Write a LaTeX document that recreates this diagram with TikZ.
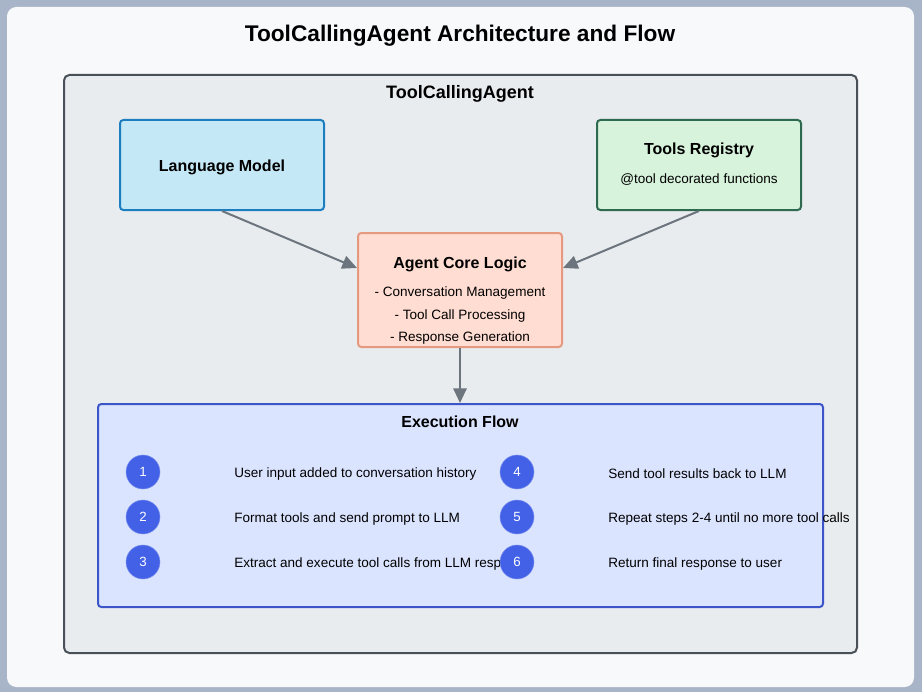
\documentclass[tikz,border=0pt]{standalone}
\usepackage{fontspec}
\setmainfont{Liberation Sans}
\usetikzlibrary{arrows.meta,positioning,backgrounds}
\definecolor{frame}{HTML}{A8B4C8}
\definecolor{card}{HTML}{F8F9FA}
\definecolor{outerbg}{HTML}{E9ECEF}
\definecolor{outerln}{HTML}{495057}
\definecolor{lmfill}{HTML}{C5E8F7}
\definecolor{lmline}{HTML}{1C7DBF}
\definecolor{trfill}{HTML}{D8F3DC}
\definecolor{trline}{HTML}{2D6A4F}
\definecolor{corefill}{HTML}{FFDDD2}
\definecolor{coreline}{HTML}{E59A80}
\definecolor{exfill}{HTML}{DBE4FF}
\definecolor{exline}{HTML}{3B55C9}
\definecolor{stepc}{HTML}{4361E6}
\definecolor{arrc}{HTML}{6C757D}
\newcommand{\fs}[1]{\fontsize{#1}{#1}\selectfont}
\tikzset{
  box/.style={rectangle,rounded corners=2.5pt,line width=1.5pt,inner sep=0pt},
  ttl/.style={font=\fs{12pt}\bfseries,inner sep=0pt,yshift=-1.5pt},
  txt/.style={font=\fs{10.15pt},inner sep=0pt,yshift=-1.5pt},
  num/.style={circle,fill=stepc,draw=stepc!70!white,thin,minimum size=25.5pt,inner sep=0pt,text=white,font=\fs{10pt}},
  ar/.style={-{Triangle[length=11pt,width=10pt]},line width=1.5pt,draw=arrc},
}
\begin{document}
\begin{tikzpicture}[x=0.75pt,y=-0.75pt]
% page
\fill[frame] (0,0) rectangle (922,692);
\fill[card,rounded corners=7pt] (7,7) rectangle (914,687);
\node[font=\fs{17pt}\bfseries,inner sep=0pt,yshift=-2pt] (title) at (460,33) {ToolCallingAgent Architecture and Flow};
% agent container
\node[box,fill=outerbg,draw=outerln,minimum width=594.75pt,minimum height=433.5pt,rounded corners=4pt] (agent) at (460.5,364) {};
\node[font=\fs{13.5pt}\bfseries,inner sep=0pt,yshift=-1.5pt] (agentttl) at (460,92) {ToolCallingAgent};
% components
\node[box,fill=lmfill,draw=lmline,minimum width=153pt,minimum height=67.5pt] (lm) at (222,165) {};
\node[ttl] (lmttl) at (222,165) {Language Model};
\node[box,fill=trfill,draw=trline,minimum width=153pt,minimum height=67.5pt] (tr) at (699,165) {};
\node[ttl] (trttl) at (699,148) {Tools Registry};
\node[txt] (trsub) at (699,178) {@tool decorated functions};
\node[box,fill=corefill,draw=coreline,minimum width=153pt,minimum height=85.5pt] (core) at (460,290) {};
\node[ttl] (corettl) at (460,262) {Agent Core Logic};
\node[txt] (core1) at (460,291) {- Conversation Management};
\node[txt] (core2) at (460,314) {- Tool Call Processing};
\node[txt] (core3) at (460,336) {- Response Generation};
\draw[ar] (lm.south) -- ([yshift=16.5pt]core.west);
\draw[ar] (tr.south) -- ([yshift=16.5pt]core.east);
% execution flow
\node[box,fill=exfill,draw=exline,minimum width=543.75pt,minimum height=152.25pt] (flow) at (460.5,505.5) {};
\node[ttl] (flowttl) at (460,420) {Execution Flow};
\draw[ar] (core.south) -- (core.south |- flow.north);
\foreach \i/\x/\y/\t in {1/143/472/User input added to conversation history,
                         2/143/517/Format tools and send prompt to LLM,
                         3/143/562/Extract and execute tool calls from LLM response,
                         4/517/472/Send tool results back to LLM,
                         5/517/517/Repeat steps 2-4 until no more tool calls,
                         6/517/562/Return final response to user}{
  \node[txt,anchor=west] (step\i) at (\x+91,\y) {\t};
}
\foreach \i/\x/\y in {1/143/472,2/143/517,3/143/562,4/517/472,5/517/517,6/517/562}{
  \node[num] (n\i) at (\x,\y) {\i};
}
\end{tikzpicture}
\end{document}
